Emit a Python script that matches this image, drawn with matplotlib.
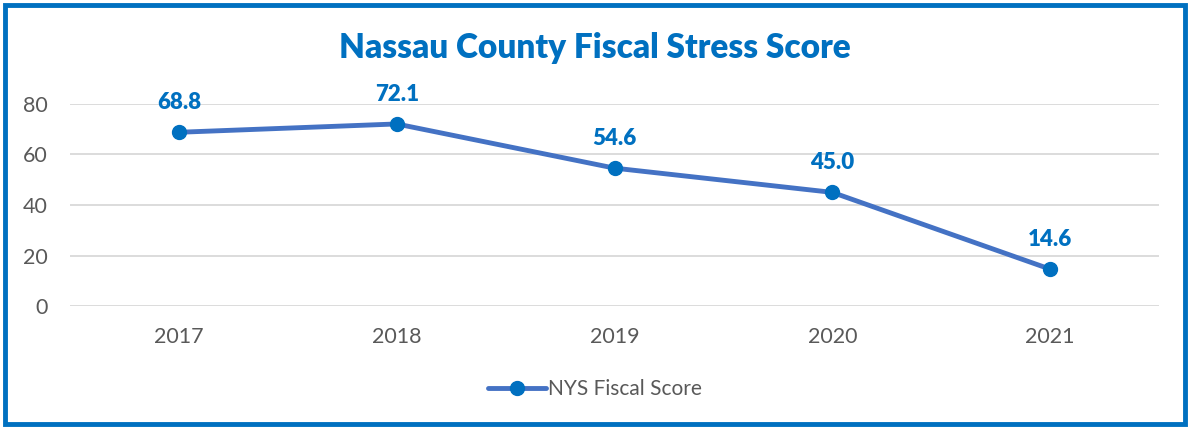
import matplotlib
matplotlib.use("Agg")
import matplotlib.pyplot as plt
from matplotlib.patches import Rectangle

years = ["2017", "2018", "2019", "2020", "2021"]
scores = [68.8, 72.1, 54.6, 45.0, 14.6]
yticks = [0, 20, 40, 60, 80]
title = "Nassau County Fiscal Stress Score"
series_name = "NYS Fiscal Score"

plt.rcParams['font.family'] = ['Lato', 'DejaVu Sans']

fig = plt.figure(figsize=(11.9, 4.28), dpi=100)
ax = fig.add_axes([70/1190, 1-306/428, (1159-70)/1190, (306-104)/428])

x = list(range(len(years)))
ax.plot(x, scores, color="#4472C4", lw=3.5, marker="o", markersize=10,
        markerfacecolor="#0070C0", markeredgecolor="#0070C0", label=series_name,
        solid_capstyle="round", zorder=3)
for xi, v in zip(x, scores):
    ax.annotate(f"{v:.1f}", (xi, v), xytext=(0, 14), textcoords="offset points",
                ha="center", va="bottom", color="#0070C0", fontsize=16, fontweight="heavy")

ax.set_xlim(-0.5, len(years) - 0.5)
ax.set_ylim(0, 80)
ax.set_yticks(yticks)
ax.set_xticks(x)
ax.set_xticklabels(years)
ax.grid(axis="y", color="#D9D9D9", lw=1.3)
ax.set_axisbelow(True)
for s in ax.spines.values():
    s.set_visible(False)
ax.tick_params(axis="both", length=0, colors="#595959", labelsize=15.5)
ax.tick_params(axis="x", pad=15)
ax.tick_params(axis="y", pad=16)
for line in ax.get_lines():
    line.set_clip_on(False)

fig.text(0.5, 1-48/428, title, ha="center", va="center", color="#0070C0",
         fontsize=24, fontweight="heavy")

leg = fig.legend(loc="center", bbox_to_anchor=(0.5, 1-389/428), frameon=False,
                 fontsize=15, handlelength=2.8, handletextpad=0.1)
for t in leg.get_texts():
    t.set_color("#595959")

fig.patches.append(Rectangle((5/1190, 4/428), 1180/1190, 419/428, transform=fig.transFigure,
                             fill=False, edgecolor="#0070C0", lw=3.5))

fig.savefig("out.png", dpi=100)
